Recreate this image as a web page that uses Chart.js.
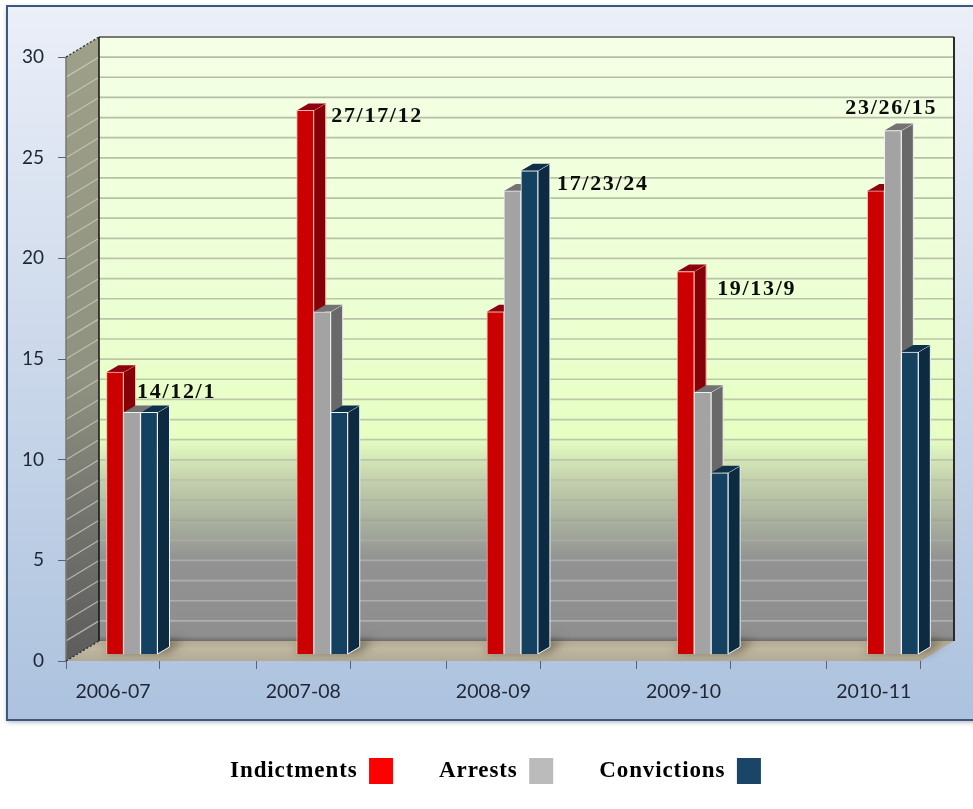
<!DOCTYPE html>
<html><head><meta charset="utf-8">
<style>html,body{margin:0;padding:0;background:#fff}canvas{display:block}</style>
<script src="https://cdn.jsdelivr.net/npm/chart.js@4/dist/chart.umd.min.js"></script>
</head><body><canvas id="c" width="973" height="809"></canvas>
<script>
const categories = ['2006-07','2007-08','2008-09','2009-10','2010-11'];
const indictments = [14,27,17,19,23];
const arrests = [12,17,23,13,26];
const convictions = [12,12,24,9,15];
const groupLabels = ['14/12/1','27/17/12','17/23/24','19/13/9','23/26/15'];
const labelOffsetX = [5,9,44.5,14.5,-47.5];
const labelLevel = [13.0,26.7,23.35,18.1,27.1];
const yTicks = [0,5,10,15,20,25,30];

const WALL_DX = 33, WALL_DY = 20, BAR_DX = 12, BAR_DY = 7;
const PX_PER_UNIT = 20.13;
const barLift = BAR_DY / PX_PER_UNIT;
const styles = [
  {front:'#CC0000',side:'#860008',top:'#8E0010',edge:'#F6B8A8',swatch:'#FF0000'},
  {front:'#A3A3A3',side:'#696969',top:'#737373',edge:'#F0F0F0',swatch:'#BBBBBB'},
  {front:'#14415F',side:'#0D2B40',top:'#10304A',edge:'#F0F4F6',swatch:'#1A4566'}
];
const toXY = a => a.map((v,i)=>({x:i,y:v}));
const mk = (label,vals,i) => ({label,data:toXY(vals),xAxisID:'x',yAxisID:'yBars',
  backgroundColor:styles[i].front,borderColor:styles[i].edge,borderWidth:1,
  barThickness:17,clip:false});

const scene = {
  id:'scene',
  beforeLayout(chart){
    const lg = chart.legend;
    if(lg && !lg._patched){
      lg._patched = true;
      const d = lg.draw, f = lg.fit;
      lg.fit = function(){const c=this.ctx;c.save();c.letterSpacing='0.9px';f.call(this);c.restore();};
      lg.draw = function(){const c=this.ctx;c.save();c.letterSpacing='0.9px';c.translate(31,5);d.call(this);c.restore();};
    }
  },
  beforeDraw(chart){
    const c = chart.ctx, a = chart.chartArea, y = chart.scales.y;
    const L=a.left,R=a.right,B=a.bottom,T=a.top;
    c.save();
    const pg = c.createLinearGradient(0,5,0,720);
    pg.addColorStop(0,'#EBEFF8');pg.addColorStop(.5,'#CBD8EA');pg.addColorStop(1,'#ACC2DE');
    c.save();c.shadowColor='rgba(60,80,110,.45)';c.shadowBlur=5;c.shadowOffsetY=2;
    c.fillStyle=pg;c.fillRect(7,6,980,714);c.restore();
    c.strokeStyle='#3C5780';c.lineWidth=2;c.strokeRect(7,6,980,714);
    const wL=L+WALL_DX,wR=R+WALL_DX,wT=T-WALL_DY,wB=B-WALL_DY;
    const wg=c.createLinearGradient(0,wT,0,wB);
    [[0,'#F5FFE6'],[.4,'#EDFFD6'],[.663,'#E6FFC2'],[.734,'#C3D0AC'],[.833,'#9DA297'],[.866,'#929292'],[1,'#8E8E8E']].forEach(s=>wg.addColorStop(s[0],s[1]));
    c.fillStyle=wg;c.fillRect(wL,wT,wR-wL,wB-wT);
    const sh=c.createLinearGradient(0,wB-5,0,wB);
    sh.addColorStop(0,'rgba(70,70,60,0)');sh.addColorStop(1,'rgba(70,70,60,.45)');
    c.fillStyle=sh;c.fillRect(wL,wB-5,wR-wL,5);
    const lg=c.createLinearGradient(0,wT,0,B);
    [[0,'#9EA088'],[.55,'#8F9280'],[.75,'#767670'],[1,'#5C5C5C']].forEach(s=>lg.addColorStop(s[0],s[1]));
    c.fillStyle=lg;c.beginPath();c.moveTo(L,T);c.lineTo(wL,wT);c.lineTo(wL,wB);c.lineTo(L,B);c.closePath();c.fill();
    const gl=c.createLinearGradient(0,wT,0,wB);
    [[0,'#B4BCA4'],[.66,'#BFC8AA'],[.74,'#B9C3A6'],[.80,'#A2A59A'],[.84,'#ABABAB'],[1,'#AFAFAF']].forEach(s=>gl.addColorStop(s[0],s[1]));
    y.ticks.forEach(t=>{
      if(t.value===0) return;
      const p=y.getPixelForValue(t.value);
      c.strokeStyle=gl;c.lineWidth=1.7;c.beginPath();c.moveTo(wL,p-WALL_DY);c.lineTo(wR,p-WALL_DY);c.stroke();
      c.strokeStyle='rgba(205,208,190,.75)';c.lineWidth=1.2;c.beginPath();c.moveTo(L,p);c.lineTo(wL,p-WALL_DY);c.stroke();
    });
    c.strokeStyle='#77796E';c.lineWidth=2;c.beginPath();c.moveTo(wL,wT);c.lineTo(wR,wT);c.stroke();
    const fg=c.createLinearGradient(0,wB,0,B);
    fg.addColorStop(0,'#B3AA93');fg.addColorStop(.4,'#C0B7A0');fg.addColorStop(1,'#B2AA95');
    c.fillStyle=fg;c.beginPath();c.moveTo(L,B);c.lineTo(wL,wB);c.lineTo(wR,wB);c.lineTo(R,B);c.closePath();c.fill();
    c.strokeStyle='#111';c.lineWidth=1.5;c.beginPath();c.moveTo(wL,wT);c.lineTo(wL,wB);c.stroke();
    c.strokeStyle='#2A2A2A';c.lineWidth=2;c.beginPath();c.moveTo(wR,wT);c.lineTo(wR,wB);c.stroke();
    c.strokeStyle='#777A6C';c.lineWidth=1.5;c.beginPath();c.moveTo(L,T);c.lineTo(L,B);c.stroke();
    c.strokeStyle='#222';c.lineWidth=1.2;c.setLineDash([2,2]);
    c.beginPath();c.moveTo(L,T);c.lineTo(wL,wT);c.moveTo(L,B);c.lineTo(wL,wB);c.stroke();
    c.setLineDash([]);
    c.restore();
  },
  beforeDatasetsDraw(chart){
    const c=chart.ctx, m0=chart.getDatasetMeta(0), m2=chart.getDatasetMeta(2);
    c.save();
    c.filter='blur(5px)';c.fillStyle='rgba(60,52,36,.55)';
    m0.data.forEach((b,i)=>{
      const e=m2.data[i], l=b.x-b.width/2, r=e.x+e.width/2;
      c.beginPath();c.moveTo(l-3,b.base-2);c.lineTo(l+12,b.base-14);c.lineTo(r+26,b.base-14);c.lineTo(r+10,b.base-1);c.closePath();c.fill();
    });
    c.restore();
    // red first, then grey, then navy: each front covers the side of the bar before it
    [0,1,2].forEach(i=>{
      const meta=chart.getDatasetMeta(i), st=styles[i];
      c.save();c.lineWidth=1;c.strokeStyle=st.edge;
      meta.data.forEach(b=>{
        const l=b.x-b.width/2,r=b.x+b.width/2,t=b.y,bo=b.base;
        c.fillStyle=st.side;c.beginPath();c.moveTo(r,t);c.lineTo(r+BAR_DX,t-BAR_DY);c.lineTo(r+BAR_DX,bo-BAR_DY);c.lineTo(r,bo);c.closePath();c.fill();c.stroke();
        c.fillStyle=st.top;c.beginPath();c.moveTo(l,t);c.lineTo(l+BAR_DX,t-BAR_DY);c.lineTo(r+BAR_DX,t-BAR_DY);c.lineTo(r,t);c.closePath();c.fill();
      });
      c.restore();
      meta.controller.draw();
    });
  },
  beforeDatasetDraw(){ return false; },
  afterDatasetsDraw(chart){
    const c=chart.ctx, m=chart.getDatasetMeta(1), y=chart.scales.yBars;
    c.save();c.font='bold 22px "Liberation Serif"';c.letterSpacing='1.7px';c.fillStyle='#0C0C0C';c.textBaseline='middle';c.textAlign='left';
    groupLabels.forEach((t,i)=>{c.fillText(t,m.data[i].x+labelOffsetX[i],y.getPixelForValue(labelLevel[i]));});
    c.restore();
  }
};

const xTickVals = categories.flatMap((_,k)=>[k-0.347,k-0.1,k+0.147]);
const isLabelTick = v => categories.some((_,k)=>Math.abs(v-(k-0.1))<1e-6);

new Chart(document.getElementById('c').getContext('2d'),{
  type:'bar',
  data:{datasets:[mk('Indictments',indictments,0),mk('Arrests',arrests,1),mk('Convictions',convictions,2)]},
  plugins:[scene],
  options:{
    responsive:false,animation:false,
    layout:{autoPadding:false,padding:{left:8,right:52,top:57,bottom:20}},
    plugins:{
      tooltip:{enabled:false},
      legend:{display:true,position:'bottom',rtl:true,reverse:true,
        labels:{boxWidth:24,boxHeight:26,padding:46,color:'#0C0C0C',
          font:{family:'"Liberation Serif"',size:23,weight:'bold'},
          generateLabels:ch=>ch.data.datasets.map((d,i)=>({text:d.label,fillStyle:styles[i].swatch,strokeStyle:styles[i].swatch,lineWidth:0,datasetIndex:i,hidden:false}))
        }}
    },
    scales:{
      x:{type:'linear',position:'bottom',offset:false,min:-0.347,max:4.148,
        afterBuildTicks:s=>{s.ticks=xTickVals.map(value=>({value}));},
        afterFit:s=>{s.height=46;},
        border:{display:false},
        grid:{offset:false,drawOnChartArea:false,drawTicks:true,tickLength:8,tickWidth:1,
          color:'#5A6470',tickColor:ctx=>isLabelTick(ctx.tick.value)?'rgba(0,0,0,0)':'#5A6470'},
        ticks:{autoSkip:false,maxRotation:0,padding:11,color:'#1E2633',font:{family:'Lato',size:19.5},
          callback:v=>{const k=categories.findIndex((_,k)=>Math.abs(v-(k-0.1))<1e-6);return k>=0?categories[k]:'';}}
      },
      y:{type:'linear',position:'left',min:0,max:30,
        afterFit:s=>{s.width=58;},
        border:{display:false},
        grid:{drawOnChartArea:false,drawTicks:true,tickLength:8,tickWidth:1,
          tickColor:ctx=>yTicks.includes(ctx.tick.value)?'#5A6470':'rgba(0,0,0,0)'},
        ticks:{stepSize:1,autoSkip:false,padding:14,color:'#1E2633',font:{family:'Lato',size:19},
          callback:v=>yTicks.includes(v)?String(v):''}
      },
      yBars:{type:'linear',display:false,min:-barLift,max:30-barLift}
    }
  }
});
</script></body></html>
